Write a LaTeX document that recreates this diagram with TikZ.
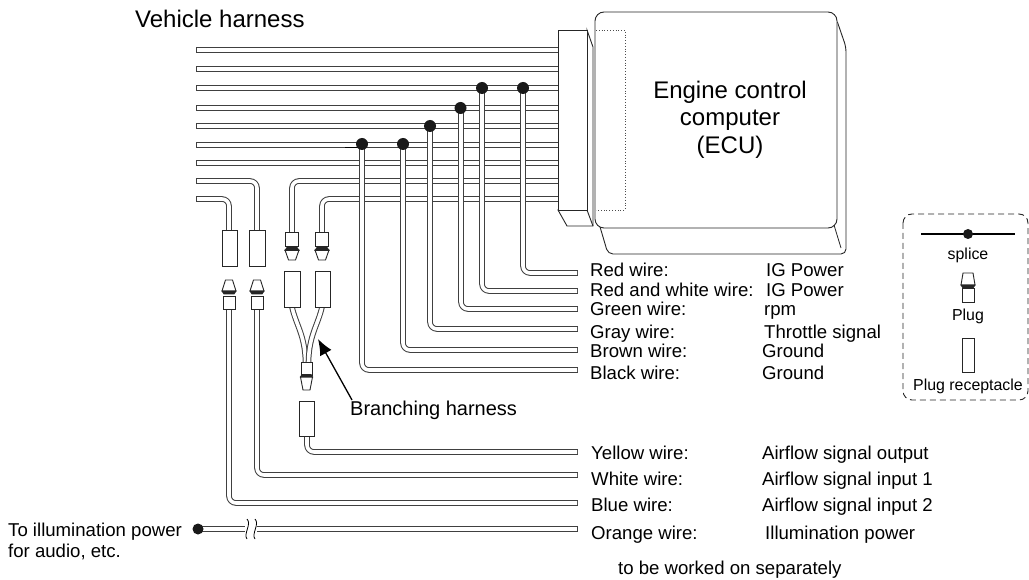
\documentclass[tikz,border=0pt]{standalone}
\usepackage{fontspec}
\setmainfont{Liberation Sans}
\usetikzlibrary{arrows.meta}
\tikzset{
  x=1pt,y=-1pt,
  wire/.style={line width=5.6pt,draw=black!75,rounded corners=7pt,line cap=butt,
    postaction={draw=white,line width=3.6pt,line cap=butt,rounded corners=7pt}},
  box/.style={draw=black!85,line width=.9pt,fill=white},
  dotm/.style={circle,fill=black!90,inner sep=0pt,minimum size=12pt},
  lab/.style={inner sep=0pt,anchor=base west,font=\fontsize{18.6pt}{21pt}\selectfont},
  small/.style={inner sep=0pt,anchor=base,font=\fontsize{15.9pt}{18pt}\selectfont},
  big/.style={inner sep=0pt,align=center,font=\fontsize{24pt}{27.5pt}\selectfont},
}
\newcommand{\plugdown}[2]{% x, top y of body
  \draw[box] (#1-6.5,#2) rectangle (#1+6.5,#2+14);
  \draw[box] (#1-7,#2+18) -- (#1+7,#2+18) -- (#1+3.5,#2+28) -- (#1-3.5,#2+28) -- cycle;
  \draw[box,fill=black!85] (#1-7,#2+18.5) -- (#1+7,#2+18.5) -- (#1+5,#2+15.5) -- (#1-5,#2+15.5) -- cycle;
}
\newcommand{\plugup}[2]{% x, bottom y of body
  \draw[box] (#1-6,#2-13) rectangle (#1+6,#2);
  \draw[box] (#1-7,#2-18) -- (#1+7,#2-18) -- (#1+3.5,#2-29) -- (#1-3.5,#2-29) -- cycle;
  \draw[box,fill=black!85] (#1-7,#2-18) -- (#1+7,#2-18) -- (#1+5,#2-15) -- (#1-5,#2-15) -- cycle;
}
\begin{document}
\begin{tikzpicture}
\useasboundingbox (0,0) rectangle (1029,580);
% horizontal harness wires
\foreach \y in {50,69,88,108,126,145,163}
  \draw[wire] (196,\y) -- (558,\y);
\draw[wire] (196,181) -- (257,181) -- (257,231);
\draw[wire] (196,199) -- (229,199) -- (229,231);
\draw[wire] (558,181) -- (292,181) -- (292,233);
\draw[wire] (558,199) -- (322,199) -- (322,233);
% end caps of wires
\foreach \y in {50,69,88,108,126,145,163,181,199}
  \draw[black!75,line width=1pt] (196,\y-2.8) -- (196,\y+2.8);
\foreach \y in {273,291,309,329,350,370,452,475,503,529}
  \draw[black!75,line width=1pt] (577,\y-2.8) -- (577,\y+2.8);
% vertical wires from splices
\draw[wire] (523,88) -- (523,273) -- (577,273);
\draw[wire] (482,88) -- (482,291) -- (577,291);
\draw[wire] (461,108) -- (461,309) -- (577,309);
\draw[wire] (430,126) -- (430,329) -- (577,329);
\draw[wire] (403,145) -- (403,350) -- (577,350);
\draw[wire] (362,145) -- (362,370) -- (577,370);
\draw[black,line width=.9pt] (345,147.6) -- (362,147.6);
% splices
\node[dotm] (s1) at (523,88) {};
\node[dotm] (s2) at (482,88) {};
\node[dotm] (s3) at (460.5,108) {};
\node[dotm] (s4) at (430,126) {};
\node[dotm] (s5) at (403,144) {};
\node[dotm] (s6) at (362,144) {};
% lower wires
\draw[wire] (307,436) -- (307,452) -- (577,452);
\draw[wire] (257,309) -- (257,475) -- (577,475);
\draw[wire] (229,309) -- (229,503) -- (577,503);
\draw[wire] (198,529) -- (245,529);
\draw[wire] (257,529) -- (577,529);
\draw[black,line width=.8pt] (247,519) .. controls (252,524) and (243,534) .. (247,539);
\draw[black,line width=.8pt] (255,519) .. controls (260,524) and (251,534) .. (255,539);
\node[dotm,minimum size=11pt] (s7) at (198,529) {};
% Y branch
\draw[wire,rounded corners=0pt] (292,307) .. controls (296,325) and (305,335) .. (305.5,362);
\draw[wire,rounded corners=0pt] (322,307) .. controls (318,325) and (309,335) .. (308.5,362);
% receptacles
\foreach \a/\b/\c/\d in {222/230/237/266, 249/230/265/266, 284/271/300/307, 315/271/330/307, 299/401/314/436}
  \draw[box] (\a,\b) rectangle (\c,\d);
% plugs
\plugdown{292}{232}
\plugdown{322}{232}
\plugup{229}{309}
\plugup{257}{309}
\draw[box] (301,362) rectangle (312,375);
\draw[box] (300.5,377) -- (312.5,377) -- (310,390) -- (303,390) -- cycle;
\draw[box,fill=black!85] (300.5,377) -- (312.5,377) -- (311,374.5) -- (302,374.5) -- cycle;
% arrow
\coordinate (atip) at (318,339);
\coordinate (atail) at (352,400);
\draw[black,line width=1.3pt,-{Latex[length=16pt,width=13pt]}] (atail) -- (atip);
% connector
\draw[box] (587,30) -- (593,47) -- (593,226) -- (567,226) -- (558,210) -- (587,210) -- cycle;
\draw[box] (587,210) -- (593,226);
\draw[box] (558,30) rectangle (587,210);
% ECU
\draw[box,rounded corners=5pt] (598,220) -- (608,254) -- (846,254) -- (846,47) -- (836,18) -- (700,18) -- cycle;
\draw[box,rounded corners=9pt] (595,12) rectangle (837,228);
\draw[black!85,line width=.8pt] (834,225) -- (841,248);
\draw[black!70,line width=.8pt,dotted] (596,30) -- (625,30) -- (625,210) -- (596,210);
\node[big] (ecu) at (730,119.5) {Engine control\\computer\\(ECU)};
% title
\node[big,anchor=base west] (vh) at (135,28) {Vehicle harness};
% labels
\foreach \t/\v/\vx/\y in {Red wire:/IG Power/766/277, Red and white wire:/IG Power/766/297, Green wire:/rpm/764/316, Gray wire:/Throttle signal/764/338, Brown wire:/Ground/762/358, Black wire:/Ground/762/379}
{ \node[lab] at (590,\y) {\t}; \node[lab] at (\vx,\y) {\v}; }
\foreach \t/\v/\vx/\y in {Yellow wire:/Airflow signal output/762/459, White wire:/Airflow signal input 1/762/485, Blue wire:/Airflow signal input 2/762/511, Orange wire:/Illumination power/765/539}
{ \node[lab] at (591,\y) {\t}; \node[lab] at (\vx,\y) {\v}; }
\node[lab] (sep) at (618,574) {to be worked on separately};
\node[big,anchor=base west,font=\fontsize{20pt}{22pt}\selectfont] (br) at (350,415) {Branching harness};
\node[lab] (t1) at (8,536) {To illumination power};
\node[lab] (t2) at (8,557) {for audio, etc.};
% legend
\draw[black!85,line width=.9pt,dash pattern=on 6pt off 4pt,rounded corners=9pt] (903,214) rectangle (1028,400);
\coordinate (l1) at (921,234); \coordinate (l2) at (1015,234);
\draw[black,line width=1.4pt] (l1) -- (l2);
\node[dotm,minimum size=10pt] (ls) at (968,234) {};
\node[small] (ls1) at (968,260) {splice};
\draw[box] (962,288) rectangle (974,302);
\draw[box] (963,273) -- (973,273) -- (975,285) -- (961,285) -- cycle;
\draw[box,fill=black!85] (961,285) -- (975,285) -- (973,288) -- (963,288) -- cycle;
\node[small] (ls2) at (968,321) {Plug};
\draw[box] (962,338) rectangle (974,372);
\node[small] (ls3) at (968,390) {Plug receptacle};
\end{tikzpicture}
\end{document}
